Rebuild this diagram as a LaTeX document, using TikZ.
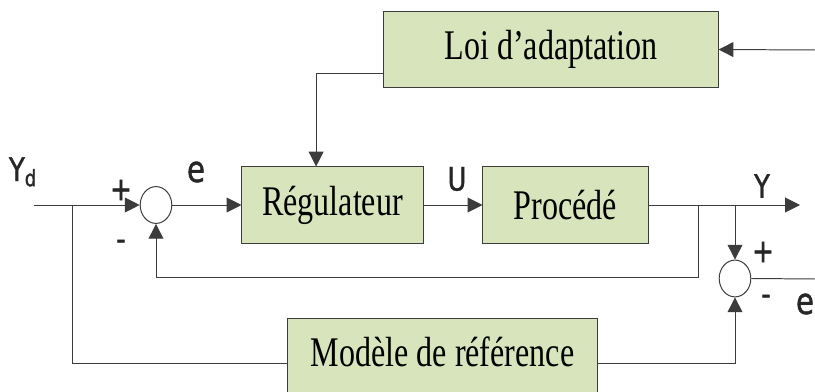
\documentclass[tikz,border=0pt]{standalone}
\usepackage{fontspec}
\newfontfamily\blocfont[FakeStretch=0.76]{Liberation Serif}
\newfontfamily\lblfont[FakeStretch=0.8,FakeBold=1.2]{DejaVu Sans}
\usetikzlibrary{shapes.geometric,arrows.meta,calc}
\definecolor{vertbloc}{RGB}{216,228,188}
\definecolor{trait}{RGB}{60,60,60}

\begin{document}
\begin{tikzpicture}[
  x=0.025cm, y=-0.025cm,
  >={Triangle[length=0.37cm,width=0.37cm]},
  bloc/.style={rectangle, draw=trait, line width=0.7pt, fill=vertbloc,
               minimum height=1.9cm, inner sep=0pt,
               font=\blocfont\fontsize{30}{34}\selectfont},
  somme/.style={ellipse, draw=trait, line width=0.7pt, fill=white,
                minimum width=0.79cm, minimum height=0.92cm, inner sep=0pt},
  lien/.style={draw=trait, line width=0.7pt},
  lbl/.style={font=\lblfont\fontsize{23}{26}\selectfont, inner sep=0pt, text=black!85},
  sig/.style={lbl, font=\lblfont\fontsize{26}{29}\selectfont},
]
\useasboundingbox (0,0) rectangle (815,392);
\clip (0,0) rectangle (815,392);

% blocs
\node[bloc, minimum width=8.35cm, minimum height=1.875cm] (loi) at (551,49.5) {Loi d’adaptation};
\node[bloc, minimum width=4.525cm] (reg)  at (332.5,205) {Régulateur};
\node[bloc, minimum width=4.125cm] (proc) at (565.5,205) {Procédé};
\node[bloc, minimum width=7.725cm, anchor=north, text height=0.75cm,
      text depth=0.55cm, inner ysep=0.45cm] (mod) at (442.5,318) {Modèle de référence};

% sommateurs
\node[somme] (s1) at (156,205) {};
\node[somme] (s2) at (735,278.5) {};

% points de passage
\coordinate (yd)   at (34,205);
\coordinate (bra)  at (72,205);
\coordinate (tap)  at (698,205);
\coordinate (tap2) at (735,205);
\coordinate (ret)  at (698,277);
\coordinate (yout) at (800,205);
\coordinate (eout) at (815,279);
\coordinate (ein)  at (815,50);

% liaisons
\draw[lien,->] (yd) -- (s1);
\draw[lien] (bra) |- (mod.mid west);
\draw[lien,->] (s1) -- (reg);
\draw[lien,->] (reg) -- (proc);
\draw[lien,->] (proc) -- (yout);
\draw[lien,->] (tap) -- (ret) -| (s1.south);
\draw[lien,->] (tap2) -- (s2.north);
\draw[lien] (s2.east) -- (eout);
\draw[lien,->] (mod.mid east) -| (s2.south);
\draw[lien,->] (ein) -- (loi.east);
\draw[lien,->] ([yshift=0.35cm]loi.south west) -| ([xshift=-0.41cm]reg.north);

% signaux
\node[lbl] (lyd) at (23,172)  {Y\textsubscript{d}};
\node[lbl] (lp1) at (121,190) {+};
\node[lbl] (lm1) at (121,245) {-};
\node[sig] (le1) at (196,172) {e};
\node[lbl] (lu)  at (457,179) {U};
\node[lbl] (ly)  at (762,186) {Y};
\node[lbl] (lp2) at (763,252) {+};
\node[lbl] (lm2) at (766,300) {-};
\node[sig] (le2) at (805,304) {e};

\end{tikzpicture}
\end{document}
